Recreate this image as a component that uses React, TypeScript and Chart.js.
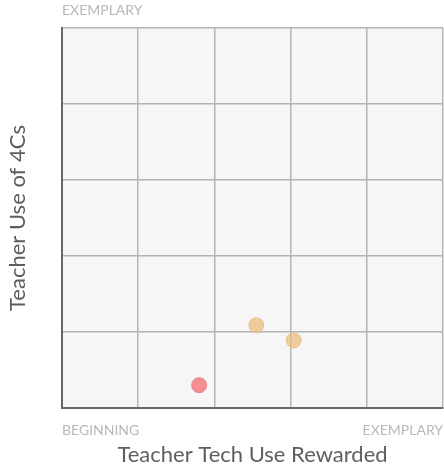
import React, { useEffect, useRef } from "react";
import { Chart, registerables } from "chart.js";

Chart.register(...registerables);

const xAxisTitle = "Teacher Tech Use Rewarded";
const yAxisTitle = "Teacher Use of 4Cs";
const lowLabel = "BEGINNING";
const highLabel = "EXEMPLARY";
const axisMin = 0;
const axisMax = 5;

const redPoints = [{ x: 1.8, y: 0.3 }];
const orangePoints = [
  { x: 2.55, y: 1.09 },
  { x: 3.04, y: 0.89 },
];

const FONT = "Lato, 'Open Sans', sans-serif";

const bgPlugin = {
  id: "plotBg",
  beforeDraw(chart: any) {
    const { ctx, chartArea } = chart;
    ctx.save();
    ctx.fillStyle = "#f6f6f6";
    ctx.fillRect(chartArea.left, chartArea.top, chartArea.right - chartArea.left, chartArea.bottom - chartArea.top);
    ctx.restore();
  },
  afterDraw(chart: any) {
    const { ctx, scales } = chart;
    const x = scales.x;
    const y = scales.y;
    ctx.save();
    ctx.fillStyle = "#b8b8b8";
    ctx.font = `14px ${FONT}`;
    ctx.textBaseline = "middle";
    ctx.textAlign = "left";
    ctx.fillText(highLabel, x.getPixelForValue(axisMin), y.getPixelForValue(axisMax) - 18);
    ctx.fillText(lowLabel, x.getPixelForValue(axisMin), y.getPixelForValue(axisMin) + 22);
    ctx.textAlign = "right";
    ctx.fillText(highLabel, x.getPixelForValue(axisMax), y.getPixelForValue(axisMin) + 22);
    ctx.restore();
  },
};

export default function App() {
  const ref = useRef<HTMLCanvasElement>(null);
  useEffect(() => {
    if (!ref.current) return;
    const chart: any = new Chart(ref.current, {
      type: "scatter",
      data: {
        datasets: [
          {
            data: redPoints,
            backgroundColor: "rgba(240, 100, 108, 0.7)",
            borderColor: "rgba(242, 110, 118, 0.8)",
            borderWidth: 1,
            pointRadius: 7.5,
          },
          {
            data: orangePoints,
            backgroundColor: "rgba(236, 186, 122, 0.7)",
            borderColor: "rgba(236, 186, 122, 0.8)",
            borderWidth: 1,
            pointRadius: 7.5,
          },
        ],
      },
      options: {
        animation: false,
        responsive: false,
        maintainAspectRatio: false,
        layout: { autoPadding: false, padding: { top: 28, right: 1, left: 0, bottom: 0 } },
        plugins: { legend: { display: false }, tooltip: { enabled: false } },
        scales: {
          x: {
            type: "linear",
            min: axisMin,
            max: axisMax,
            ticks: { display: false, stepSize: 1 },
            grid: { color: "#b4b4b4", lineWidth: 1.5, drawTicks: false },
            border: { color: "#666", width: 2 },
            title: {
              display: true,
              text: xAxisTitle,
              color: "#5e5e5e",
              font: { family: FONT, size: 22 },
              padding: { top: 0, bottom: 1 },
            },
            afterFit(scale: any) {
              scale.height = 61;
            },
          },
          y: {
            type: "linear",
            min: axisMin,
            max: axisMax,
            ticks: { display: false, stepSize: 1 },
            grid: { color: "#b4b4b4", lineWidth: 1.5, drawTicks: false },
            border: { color: "#666", width: 2 },
            title: {
              display: true,
              text: yAxisTitle,
              color: "#5e5e5e",
              font: { family: FONT, size: 22 },
              padding: { top: 5, bottom: 0 },
            },
            afterFit(scale: any) {
              scale.width = 62;
            },
          },
        },
      },
      plugins: [bgPlugin],
    });
    return () => chart.destroy();
  }, []);
  return (
    <div style={{ position: "absolute", left: 0, top: 0, width: 444, height: 469, background: "#fff" }}>
      <canvas ref={ref} width={444} height={469} style={{ display: "block" }} />
    </div>
  );
}
